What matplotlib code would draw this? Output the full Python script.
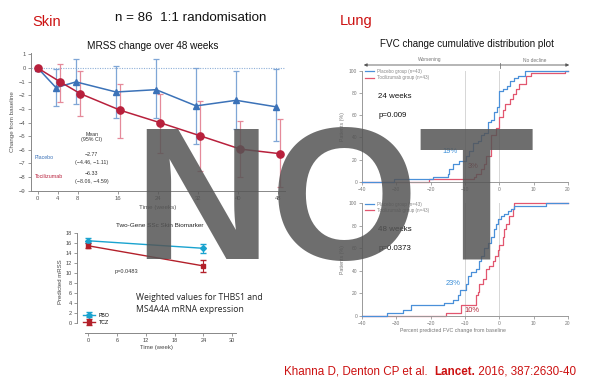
import matplotlib
matplotlib.use("Agg")
import matplotlib.pyplot as plt
import numpy as np

plt.rcParams['font.family'] = ['Liberation Sans', 'DejaVu Sans']

# ---------------- data ----------------
weeks = [0, 4, 8, 16, 24, 32, 40, 48]
pbo_mrss = [0, -1.44, -1.02, -1.76, -1.59, -2.78, -2.37, -2.85]
pbo_lo = [0, -2.78, -2.66, -3.70, -3.70, -5.59, -4.49, -5.37]
pbo_hi = [0, -0.05, 0.63, 0.17, 0.63, 0.00, -0.22, -0.10]
tcz_mrss = [0, -1.02, -1.88, -3.10, -4.02, -4.98, -5.95, -6.29]
tcz_lo = [0, -2.49, -3.51, -5.10, -6.27, -7.56, -8.02, -8.76]
tcz_hi = [0, 0.32, -0.20, -1.15, -1.88, -2.44, -3.90, -3.76]
skin_yticks = [1, 0, -1, -2, -3, -4, -5, -6, -7, -8, -9]

bio_weeks = [0, 24]
pbo_bio = [16.4, 14.9]
pbo_bio_err = [0.5, 0.9]
tcz_bio = [15.4, 11.4]
tcz_bio_err = [0.5, 1.2]
bio_xticks = [0, 6, 12, 18, 24, 30]
bio_yticks = [0, 2, 4, 6, 8, 10, 12, 14, 16, 18]

# cumulative distribution steps (FVC % predicted change, cumulative % patients)
p24_x = [-40, -30.6, -19.3, -15.0, -14.6, -13.6, -11.7, -9.7, -8.7, -7.8, -6.3, -5.3, -4.4,
         -3.4, -2.4, -1.5, -0.8, 0.0, 1.0, 2.1, 3.1, 4.4, 5.3, 7.6, 20]
p24_y = [0, 2.3, 4.7, 7.0, 11.6, 16.3, 18.6, 23.3, 27.9, 34.9, 37.2, 41.9, 44.2,
         53.5, 55.8, 62.8, 67.4, 81.4, 83.7, 86.0, 90.7, 93.0, 95.3, 100, 100]
t24_x = [-40, -20.4, -7.5, -6.8, -5.3, -4.4, -3.9, -2.4, -1.0, 0.0, 1.0, 1.7, 3.1, 3.9,
         4.9, 5.8, 7.8, 9.2, 19.0, 20]
t24_y = [0, 2.3, 4.7, 7.0, 11.6, 16.3, 23.3, 41.9, 48.8, 58.1, 65.1, 69.8, 74.4, 79.1,
         83.7, 88.4, 95.3, 97.7, 100, 100]
p48_x = [-40, -32.8, -28.0, -25.7, -16.0, -13.6, -12.1, -11.6, -9.6, -9.2, -8.3, -6.8,
         -5.8, -5.3, -4.4, -3.4, -2.4, -1.5, -1.0, -0.5, 0.5, 1.5, 2.4, 3.4, 4.4, 13.6, 20]
p48_y = [0, 2.3, 4.7, 9.3, 11.6, 14.0, 18.6, 23.3, 27.9, 34.9, 38.6, 41.9,
         48.8, 53.5, 60.5, 65.1, 69.8, 76.7, 81.4, 86.0, 88.4, 90.7, 93.0, 95.3, 97.7, 100, 100]
t48_x = [-40, -15.5, -11.2, -6.8, -6.3, -5.8, -4.9, -3.9, -2.9, -1.9, -1.2, -0.5, 0.0,
         1.0, 1.5, 1.9, 2.9, 3.9, 4.4, 20]
t48_y = [0, 2.3, 9.3, 18.6, 20.9, 27.9, 32.6, 41.9, 44.2, 48.8, 53.5, 58.1, 62.8,
         69.8, 76.7, 81.4, 88.4, 95.3, 100, 100]
cdf_xticks = [-40, -30, -20, -10, 0, 10, 20]
cdf_yticks = [0, 20, 40, 60, 80, 100]

# ---------------- figure ----------------
W, H = 597, 386
fig = plt.figure(figsize=(W / 100, H / 100), dpi=100)
fig.patch.set_facecolor('white')


def fx(px):
    return px / W


def fy(py):
    return 1 - py / H


def axes_px(left, top, right, bottom):
    return fig.add_axes([fx(left), fy(bottom), (right - left) / W, (bottom - top) / H])


RED_TITLE = '#cc1111'

# headers
fig.text(fx(32), fy(22), 'Skin', color=RED_TITLE, fontsize=10.5, va='center', ha='left')
fig.text(fx(115), fy(18), 'n = 86  1:1 randomisation', color='#111111', fontsize=9.6,
         va='center', ha='left')
fig.text(fx(153), fy(46), 'MRSS change over 48 weeks', color='#111111', fontsize=7.2,
         va='center', ha='center')
fig.text(fx(340), fy(21), 'Lung', color=RED_TITLE, fontsize=10.5, va='center', ha='left')
fig.text(fx(467), fy(44), 'FVC change cumulative distribution plot', color='#111111',
         fontsize=7.15, va='center', ha='center')

# ---------------- Skin mRSS panel ----------------
ax1 = axes_px(30.7, 53, 285, 190.7)
BLUE = '#3b72b8'
BLUE_E = '#7fa6d6'
RED = '#b8203c'
RED_E = '#e58a9a'
w = np.array(weeks, dtype=float)
xb = w - 0.35 * (w > 0)
xr = w + 0.5 * (w > 0)
pm, pl, ph = np.array(pbo_mrss), np.array(pbo_lo), np.array(pbo_hi)
tm, tl, th = np.array(tcz_mrss), np.array(tcz_lo), np.array(tcz_hi)
ax1.axhline(0, color='#8fb0d8', lw=0.8, ls=(0, (1, 1.2)), zorder=1)
ax1.errorbar(xb, pm, yerr=[pm - pl, ph - pm], fmt='none', ecolor=BLUE_E, elinewidth=0.9,
             capsize=2.2, capthick=0.9, zorder=2)
ax1.errorbar(xr, tm, yerr=[tm - tl, th - tm], fmt='none', ecolor=RED_E, elinewidth=0.9,
             capsize=2.2, capthick=0.9, zorder=2)
ax1.plot(xb, pm, color=BLUE, lw=1.1, marker='^', ms=4.5, zorder=3)
ax1.plot(xr, tm, color=RED, lw=1.1, marker='o', ms=5.2, zorder=3)
ax1.set_xlim(-1.4, 49.4)
ax1.set_ylim(-9, 1.1)
ax1.set_xticks(weeks)
ax1.set_xticklabels([str(v) for v in weeks])
ax1.set_yticks(skin_yticks)
ax1.set_yticklabels([str(v).replace('-', '\u2212') for v in skin_yticks])
for s in ['top', 'right']:
    ax1.spines[s].set_visible(False)
for s in ['left', 'bottom']:
    ax1.spines[s].set_color('#888888')
    ax1.spines[s].set_linewidth(0.7)
ax1.tick_params(labelsize=4.2, colors='#888888', labelcolor='#555555', length=2, width=0.6,
                pad=1.5)
ax1.set_xlabel('Time (weeks)', fontsize=4.5, color='#555555', labelpad=3)
ax1.set_ylabel('Change from baseline', fontsize=4.5, color='#555555', labelpad=3)
small = dict(transform=ax1.transAxes, fontsize=3.8, va='center')
ax1.text(0.24, 0.41, 'Mean', color='#333333', ha='center', **small)
ax1.text(0.24, 0.37, '(95% CI)', color='#333333', ha='center', **small)
ax1.text(0.015, 0.24, 'Placebo', color=BLUE, ha='left', **small)
ax1.text(0.24, 0.265, '\u22122.77', color='#333333', ha='center', **small)
ax1.text(0.24, 0.205, '(\u22124.46, \u22121.11)', color='#333333', ha='center', **small)
ax1.text(0.015, 0.10, 'Tocilizumab', color=RED, ha='left', **small)
ax1.text(0.24, 0.125, '\u22126.33', color='#333333', ha='center', **small)
ax1.text(0.24, 0.07, '(\u22128.06, \u22124.59)', color='#333333', ha='center', **small)

# ---------------- Biomarker panel ----------------
ax2 = axes_px(76.7, 230.2, 237, 333.3)
PBO_C = '#1aa3cf'
TCZ_C = '#b3202a'
ax2.errorbar(bio_weeks, pbo_bio, yerr=pbo_bio_err, color=PBO_C, lw=1.0, marker='D', ms=3,
             capsize=2, elinewidth=0.8, label='PBO', zorder=3)
ax2.errorbar(bio_weeks, tcz_bio, yerr=tcz_bio_err, color=TCZ_C, lw=1.0, marker='s', ms=3.5,
             capsize=2, elinewidth=0.8, label='TCZ', zorder=3)
ax2.set_xlim(-2.4, 31)
ax2.set_ylim(-2, 18.5)
ax2.set_xticks(bio_xticks)
ax2.set_yticks(bio_yticks)
ax2.spines['left'].set_bounds(0, 18)
ax2.spines['bottom'].set_bounds(-0.7, 30.7)
for s in ['top', 'right']:
    ax2.spines[s].set_visible(False)
for s in ['left', 'bottom']:
    ax2.spines[s].set_color('#888888')
    ax2.spines[s].set_linewidth(0.7)
ax2.tick_params(labelsize=4.0, colors='#888888', labelcolor='#444444', length=2, width=0.6,
                pad=1.5)
ax2.set_xlabel('Time (week)', fontsize=4.3, color='#444444', labelpad=1)
ax2.set_ylabel('Predicted mRSS', fontsize=4.3, color='#444444', labelpad=2)
ax2.set_title('Two-Gene SSc Skin Biomarker', fontsize=4.6, color='#222222', pad=2, x=0.52)
ax2.text(0.31, 0.60, 'p=0.0483', transform=ax2.transAxes, fontsize=4.0, color='#333333',
         ha='center', va='center')
ax2.legend(loc='lower left', bbox_to_anchor=(0.02, 0.05), fontsize=3.8, frameon=False,
           handlelength=2.2, handletextpad=0.8, labelspacing=0.45, borderaxespad=0.2)
fig.text(fx(136), fy(297), 'Weighted values for THBS1 and', fontsize=6.2, color='#222222',
         family=['Open Sans', 'DejaVu Sans'], va='center', ha='left')
fig.text(fx(136), fy(310), 'MS4A4A mRNA expression', fontsize=6.2, color='#222222',
         family=['Open Sans', 'DejaVu Sans'], va='center', ha='left')

# ---------------- CDF panels ----------------
CB = '#4a90d9'
CR = '#e2566f'


def cdf_panel(top, bottom, px_, py_, tx_, ty_, label_weeks, pval, pct_b, pct_r,
              pct_b_pos, pct_r_pos, show_xlabel):
    ax = axes_px(362, top, 568, bottom)
    ax.axvline(-10, color='#d6d6d6', lw=0.7, zorder=1)
    ax.axvline(0, color='#d6d6d6', lw=0.7, zorder=1)
    ax.step(px_, py_, where='post', color=CB, lw=0.9, label='Placebo group (n=43)',
            zorder=3, clip_on=False)
    ax.step(tx_, ty_, where='post', color=CR, lw=0.9, label='Tocilizumab group (n=43)',
            zorder=2, clip_on=False)
    ax.set_xlim(-40, 20)
    ax.set_ylim(0, 100)
    ax.set_xticks(cdf_xticks)
    ax.set_yticks(cdf_yticks)
    for s in ['top', 'right']:
        ax.spines[s].set_visible(False)
    for s in ['left', 'bottom']:
        ax.spines[s].set_color('#999999')
        ax.spines[s].set_linewidth(0.7)
    ax.tick_params(labelsize=3.5, colors='#999999', labelcolor='#777777', length=2,
                   width=0.6, pad=1.5)
    ax.set_ylabel('Patients (%)', fontsize=3.8, color='#777777', labelpad=3)
    if show_xlabel:
        ax.set_xlabel('Percent predicted FVC change from baseline', fontsize=3.8,
                      color='#777777', labelpad=2, x=0.44)
    ax.legend(loc='upper left', bbox_to_anchor=(0.0, 1.04), fontsize=3.3, frameon=False,
              handlelength=2.0, handletextpad=0.6, labelspacing=0.3, borderaxespad=0.2,
              labelcolor='#888888')
    ax.text(0.078, 0.77, label_weeks, transform=ax.transAxes, fontsize=5.7,
            color='#111111', ha='left', va='center')
    ax.text(0.078, 0.60, pval, transform=ax.transAxes, fontsize=5.7, color='#111111',
            ha='left', va='center')
    ax.text(pct_b_pos[0], pct_b_pos[1], pct_b, fontsize=5.4, color='#3a8ed8',
            ha='center', va='center')
    ax.text(pct_r_pos[0], pct_r_pos[1], pct_r, fontsize=5.4, color='#b02436',
            ha='center', va='center')
    return ax


ax3 = cdf_panel(70.7, 182, p24_x, p24_y, t24_x, t24_y, '24 weeks', 'p=0.009', '19%', '3%',
                (-14.5, 27), (-7.5, 13.5), False)
ax4 = cdf_panel(203.3, 315.7, p48_x, p48_y, t48_x, t48_y, '48 weeks', 'p=0.0373', '23%',
                '10%', (-13.5, 29), (-8.0, 5), True)

# worsening / no decline arrow
fig.add_artist(matplotlib.patches.FancyArrowPatch(
    (fx(361), fy(65)), (fx(572), fy(65)), transform=fig.transFigure,
    arrowstyle='<|-|>', mutation_scale=4.5, color='#555555', lw=0.6))
fig.add_artist(matplotlib.lines.Line2D([fx(500), fx(500)], [fy(62.5), fy(67.5)],
                                       transform=fig.transFigure, color='#777777', lw=0.6))
fig.text(fx(430), fy(60), 'Worsening', fontsize=3.5, color='#777777', ha='center',
         va='center')
fig.text(fx(535), fy(60), 'No decline', fontsize=3.5, color='#777777', ha='center',
         va='center')

# citation (regular + bold journal + regular), chained left to right
renderer = fig.canvas.get_renderer()
cit_parts = [('Khanna D, Denton CP et al.  ', 'normal'), ('Lancet.', 'bold'),
             (' 2016, 387:2630-40', 'normal')]
xpos = 284
for txt, wgt in cit_parts:
    t = fig.text(fx(xpos), fy(372), txt, color=RED_TITLE, fontsize=8.4, fontweight=wgt,
                 va='center', ha='left')
    bb = t.get_window_extent(renderer=renderer)
    xpos += bb.width

# watermark
fig.text(fx(133), fy(259), 'NOT', fontsize=137, fontweight='bold', color='#555555',
         alpha=0.85, ha='left', va='baseline', zorder=100,
         family=['Liberation Sans', 'DejaVu Sans'])

fig.savefig('out.png', dpi=100, facecolor='white')
